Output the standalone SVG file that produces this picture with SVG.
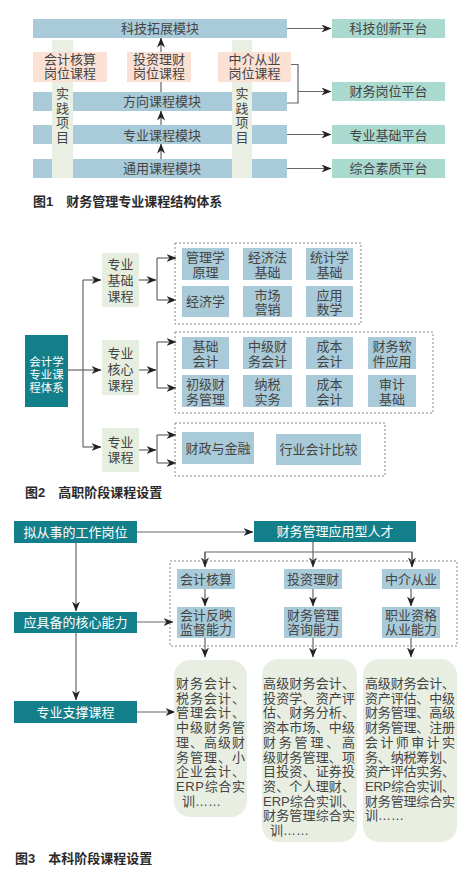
<svg xmlns="http://www.w3.org/2000/svg" width="474" height="873" viewBox="0 0 474 873">
<style>
text{font-family:"Liberation Sans","Noto Sans CJK SC",sans-serif;font-size:13px;fill:#444;}
.c{text-anchor:middle;}
.w{fill:#fff;}
.s11{font-size:11.5px;}
.cap{font-weight:bold;fill:#2a2a2a;}
.bar{fill:#a9cbd9;}
.plat{fill:#aad9d0;}
.pink{fill:#fbe0d4;}
.prac{fill:#e9efe2;}
.teal{fill:#137f8b;}
.grn{fill:#e6eedf;}
.item{fill:#a9cbd9;}
.dash{fill:none;stroke:#8a8a8a;stroke-width:1;stroke-dasharray:2,2;}
.ln{fill:none;stroke:#666;stroke-width:1.2;}
.ar{fill:none;stroke:#666;stroke-width:1.2;marker-end:url(#ah);}
.rb{fill:#e8efe2;}
</style>
<defs>
<marker id="ah" viewBox="0 0 10 8" refX="9.5" refY="4" markerWidth="10" markerHeight="8" markerUnits="userSpaceOnUse" orient="auto">
<path d="M0,0 L10,4 L0,8 L3,4 z" fill="#222"/>
</marker>
</defs>
<rect width="474" height="873" fill="#fff"/>

<!-- ===== Figure 1 ===== -->
<g id="fig1-bars">
<rect class="bar" x="33" y="19" width="254" height="19"/>
<rect class="bar" x="33" y="92" width="254" height="19"/>
<rect class="bar" x="33" y="125" width="254" height="19"/>
<rect class="bar" x="33" y="159" width="254" height="19"/>
</g>
<g id="fig1-connectors">
<line class="ar" x1="161" y1="92" x2="161" y2="38"/>
<line class="ar" x1="161" y1="125" x2="161" y2="111"/>
<line class="ar" x1="161" y1="159" x2="161" y2="144"/>
<line class="ar" x1="287" y1="28.5" x2="331" y2="28.5"/>
<polyline class="ln" points="291,64.5 298,64.5 298,103 287,103"/>
<line class="ar" x1="298" y1="91.5" x2="331" y2="91.5"/>
<line class="ar" x1="287" y1="134.5" x2="331" y2="134.5"/>
<line class="ar" x1="287" y1="168.5" x2="331" y2="168.5"/>
</g>
<g id="prac-left"><rect class="prac" x="52" y="40" width="21" height="138"/>
<text class="c"><tspan x="62.5" y="98">实</tspan><tspan x="62.5" y="112.7">践</tspan><tspan x="62.5" y="127.4">项</tspan><tspan x="62.5" y="142.1">目</tspan></text></g>
<g id="prac-right"><rect class="prac" x="232" y="40" width="20" height="138"/>
<text class="c"><tspan x="242" y="98">实</tspan><tspan x="242" y="112.7">践</tspan><tspan x="242" y="127.4">项</tspan><tspan x="242" y="142.1">目</tspan></text></g>
<g id="m-keji"><text class="c" x="160" y="33">科技拓展模块</text></g>
<g id="m-fangxiang"><text class="c" x="162" y="106">方向课程模块</text></g>
<g id="m-zhuanye"><text class="c" x="162" y="139.5">专业课程模块</text></g>
<g id="m-tongyong"><text class="c" x="162" y="173">通用课程模块</text></g>
<g id="p-kuaiji"><rect class="pink" x="33" y="52" width="74" height="30"/>
<text class="c"><tspan x="70" y="63.5">会计核算</tspan><tspan x="70" y="78.2">岗位课程</tspan></text></g>
<g id="p-touzi"><rect class="pink" x="127" y="52" width="64" height="30"/>
<text class="c"><tspan x="159" y="63.5">投资理财</tspan><tspan x="159" y="78.2">岗位课程</tspan></text></g>
<g id="p-zhongjie"><rect class="pink" x="218" y="52" width="73" height="30"/>
<text class="c"><tspan x="254.5" y="63.5">中介从业</tspan><tspan x="254.5" y="78.2">岗位课程</tspan></text></g>
<g id="pl-keji"><rect class="plat" x="332" y="19" width="113" height="19"/><text class="c" x="388.5" y="33">科技创新平台</text></g>
<g id="pl-caiwu"><rect class="plat" x="332" y="82" width="113" height="19"/><text class="c" x="388.5" y="96">财务岗位平台</text></g>
<g id="pl-jichu"><rect class="plat" x="332" y="125" width="113" height="19"/><text class="c" x="388.5" y="139.5">专业基础平台</text></g>
<g id="pl-zonghe"><rect class="plat" x="332" y="159" width="113" height="19"/><text class="c" x="388.5" y="173">综合素质平台</text></g>
<text class="cap" x="33" y="206">图1　财务管理专业课程结构体系</text>

<!-- ===== Figure 2 ===== -->
<g id="fig2-connectors">
<line class="ln" x1="68" y1="370" x2="83" y2="370"/>
<line class="ln" x1="83" y1="280" x2="83" y2="447"/>
<line class="ar" x1="83" y1="280" x2="101" y2="280"/>
<line class="ar" x1="83" y1="370" x2="101" y2="370"/>
<line class="ar" x1="83" y1="447" x2="101" y2="447"/>
<line class="ar" x1="139" y1="280" x2="156" y2="280"/>
<line class="ar" x1="139" y1="370" x2="156" y2="370"/>
<line class="ar" x1="139" y1="450" x2="156" y2="450"/>
<line class="ln" x1="157" y1="258" x2="157" y2="300"/>
<line class="ar" x1="157" y1="258" x2="176" y2="258"/>
<line class="ar" x1="157" y1="300" x2="176" y2="300"/>
<line class="ln" x1="157" y1="342" x2="157" y2="388"/>
<line class="ar" x1="157" y1="342" x2="176" y2="342"/>
<line class="ar" x1="157" y1="388" x2="176" y2="388"/>
<line class="ln" x1="157" y1="435" x2="157" y2="463"/>
<line class="ar" x1="157" y1="435" x2="176" y2="435"/>
<line class="ar" x1="157" y1="463" x2="176" y2="463"/>
</g>
<g id="kjx"><rect class="teal" x="25" y="335" width="43" height="72"/>
<text class="c w s11"><tspan x="46.5" y="365.5">会计学</tspan><tspan x="46.5" y="378.5">专业课</tspan><tspan x="46.5" y="391.5">程体系</tspan></text></g>
<g id="zyjc"><rect class="grn" x="102" y="253" width="37" height="54"/>
<text class="c"><tspan x="120.5" y="269">专业</tspan><tspan x="120.5" y="285">基础</tspan><tspan x="120.5" y="300.5">课程</tspan></text></g>
<g id="zyhx"><rect class="grn" x="102" y="340" width="37" height="55"/>
<text class="c"><tspan x="120.5" y="358">专业</tspan><tspan x="120.5" y="374">核心</tspan><tspan x="120.5" y="389.5">课程</tspan></text></g>
<g id="zykc"><rect class="grn" x="102" y="428" width="37" height="44"/>
<text class="c"><tspan x="120.5" y="446.5">专业</tspan><tspan x="120.5" y="461.5">课程</tspan></text></g>
<rect class="dash" x="175" y="243" width="186" height="81"/>
<rect class="dash" x="175" y="332" width="258" height="81"/>
<rect class="dash" x="175" y="423" width="210" height="53"/>
<g id="g1a"><rect class="item" x="182" y="248" width="47" height="32"/><text class="c"><tspan x="205.5" y="262">管理学</tspan><tspan x="205.5" y="276.7">原理</tspan></text></g>
<g id="g1b"><rect class="item" x="243" y="248" width="49" height="32"/><text class="c"><tspan x="267.5" y="262">经济法</tspan><tspan x="267.5" y="276.7">基础</tspan></text></g>
<g id="g1c"><rect class="item" x="306" y="248" width="47" height="32"/><text class="c"><tspan x="329.5" y="262">统计学</tspan><tspan x="329.5" y="276.7">基础</tspan></text></g>
<g id="g1d"><rect class="item" x="182" y="286" width="47" height="31"/><text class="c" x="205.5" y="306">经济学</text></g>
<g id="g1e"><rect class="item" x="243" y="286" width="49" height="31"/><text class="c"><tspan x="267.5" y="299.5">市场</tspan><tspan x="267.5" y="314.2">营销</tspan></text></g>
<g id="g1f"><rect class="item" x="306" y="286" width="47" height="31"/><text class="c"><tspan x="329.5" y="299.5">应用</tspan><tspan x="329.5" y="314.2">数学</tspan></text></g>
<g id="g2a"><rect class="item" x="182" y="337" width="47" height="32"/><text class="c"><tspan x="205.5" y="351">基础</tspan><tspan x="205.5" y="365.7">会计</tspan></text></g>
<g id="g2b"><rect class="item" x="243" y="337" width="49" height="32"/><text class="c"><tspan x="267.5" y="351">中级财</tspan><tspan x="267.5" y="365.7">务会计</tspan></text></g>
<g id="g2c"><rect class="item" x="306" y="337" width="47" height="32"/><text class="c"><tspan x="329.5" y="351">成本</tspan><tspan x="329.5" y="365.7">会计</tspan></text></g>
<g id="g2d"><rect class="item" x="368" y="337" width="48" height="32"/><text class="c"><tspan x="392" y="351">财务软</tspan><tspan x="392" y="365.7">件应用</tspan></text></g>
<g id="g2e"><rect class="item" x="182" y="375" width="47" height="32"/><text class="c"><tspan x="205.5" y="389">初级财</tspan><tspan x="205.5" y="403.7">务管理</tspan></text></g>
<g id="g2f"><rect class="item" x="243" y="375" width="49" height="32"/><text class="c"><tspan x="267.5" y="389">纳税</tspan><tspan x="267.5" y="403.7">实务</tspan></text></g>
<g id="g2g"><rect class="item" x="306" y="375" width="47" height="32"/><text class="c"><tspan x="329.5" y="389">成本</tspan><tspan x="329.5" y="403.7">会计</tspan></text></g>
<g id="g2h"><rect class="item" x="368" y="375" width="48" height="32"/><text class="c"><tspan x="392" y="389">审计</tspan><tspan x="392" y="403.7">基础</tspan></text></g>
<g id="g3a"><rect class="item" x="182" y="432" width="72" height="32"/><text class="c" x="218" y="452.5">财政与金融</text></g>
<g id="g3b"><rect class="item" x="276" y="434" width="85" height="31"/><text class="c" x="318.5" y="454">行业会计比较</text></g>
<text class="cap" x="25" y="497">图2　高职阶段课程设置</text>

<!-- ===== Figure 3 ===== -->
<g id="fig3-connectors">
<line class="ar" x1="137" y1="532" x2="253" y2="532"/>
<line class="ar" x1="76" y1="543" x2="76" y2="611"/>
<line class="ar" x1="76" y1="633" x2="76" y2="700"/>
<line class="ar" x1="137" y1="622" x2="173" y2="622"/>
<line class="ar" x1="137" y1="712" x2="175" y2="712"/>
<line class="ar" x1="313" y1="542" x2="313" y2="567"/>
<polyline class="ln" points="205,567 205,552 412,552 412,567"/>
<line class="ar" x1="205" y1="552" x2="205" y2="567"/>
<line class="ar" x1="412" y1="552" x2="412" y2="567"/>
<line class="ar" x1="205" y1="589" x2="205" y2="606"/>
<line class="ar" x1="313" y1="589" x2="313" y2="606"/>
<line class="ar" x1="411" y1="589" x2="411" y2="606"/>
<line class="ar" x1="205" y1="638" x2="205" y2="657"/>
<line class="ar" x1="313" y1="638" x2="313" y2="657"/>
<line class="ar" x1="411" y1="638" x2="411" y2="657"/>
</g>
<g id="nscs"><rect class="teal" x="14" y="521" width="123" height="22"/><text class="c w" x="75.5" y="536.5">拟从事的工作岗位</text></g>
<g id="cwgl"><rect class="teal" x="254" y="521" width="162" height="21"/><text class="c w" x="335" y="536">财务管理应用型人才</text></g>
<g id="yjb"><rect class="teal" x="14" y="612" width="123" height="21"/><text class="c w" x="75.5" y="627">应具备的核心能力</text></g>
<g id="zyzc"><rect class="teal" x="14" y="701" width="123" height="22"/><text class="c w" x="75.5" y="716.5">专业支撑课程</text></g>
<rect class="dash" x="170" y="561" width="287" height="85"/>
<g id="r1a"><rect class="item" x="177" y="569" width="58" height="20"/><text class="c" x="206" y="583.5">会计核算</text></g>
<g id="r1b"><rect class="item" x="284" y="569" width="58" height="20"/><text class="c" x="313" y="583.5">投资理财</text></g>
<g id="r1c"><rect class="item" x="382" y="569" width="58" height="20"/><text class="c" x="411" y="583.5">中介从业</text></g>
<g id="r2a"><rect class="item" x="177" y="607" width="58" height="31"/><text class="c"><tspan x="206" y="619.5">会计反映</tspan><tspan x="206" y="634.2">监督能力</tspan></text></g>
<g id="r2b"><rect class="item" x="284" y="607" width="58" height="31"/><text class="c"><tspan x="313" y="619.5">财务管理</tspan><tspan x="313" y="634.2">咨询能力</tspan></text></g>
<g id="r2c"><rect class="item" x="382" y="607" width="58" height="31"/><text class="c"><tspan x="411" y="619.5">职业资格</tspan><tspan x="411" y="634.2">从业能力</tspan></text></g>
<g id="c-left"><rect class="rb" x="174" y="660" width="73" height="157" rx="16"/>
<text><tspan x="176" y="688" textLength="69" lengthAdjust="spacing">财务会计、</tspan><tspan x="176" y="702.7" textLength="69" lengthAdjust="spacing">税务会计、</tspan><tspan x="176" y="717.4" textLength="69" lengthAdjust="spacing">管理会计、</tspan><tspan x="176" y="732.1" textLength="69" lengthAdjust="spacing">中级财务管</tspan><tspan x="176" y="746.8" textLength="69" lengthAdjust="spacing">理、高级财</tspan><tspan x="176" y="761.5" textLength="69" lengthAdjust="spacing">务管理、小</tspan><tspan x="176" y="776.2" textLength="69" lengthAdjust="spacing">企业会计、</tspan><tspan x="176" y="790.9" textLength="69" lengthAdjust="spacing">ERP综合实</tspan><tspan x="182" y="805.6">训……</tspan></text></g>
<g id="c-mid"><rect class="rb" x="262" y="659" width="95" height="183" rx="16"/>
<text><tspan x="263" y="688" textLength="92" lengthAdjust="spacing">高级财务会计、</tspan><tspan x="263" y="702.7" textLength="92" lengthAdjust="spacing">投资学、资产评</tspan><tspan x="263" y="717.4" textLength="92" lengthAdjust="spacing">估、财务分析、</tspan><tspan x="263" y="732.1" textLength="92" lengthAdjust="spacing">资本市场、中级</tspan><tspan x="263" y="746.8" textLength="92" lengthAdjust="spacing">财务管理、高</tspan><tspan x="263" y="761.5" textLength="92" lengthAdjust="spacing">级财务管理、项</tspan><tspan x="263" y="776.2" textLength="92" lengthAdjust="spacing">目投资、证券投</tspan><tspan x="263" y="790.9" textLength="92" lengthAdjust="spacing">资、个人理财、</tspan><tspan x="263" y="805.6" textLength="92" lengthAdjust="spacing">ERP综合实训、</tspan><tspan x="263" y="820.3" textLength="92" lengthAdjust="spacing">财务管理综合实</tspan><tspan x="270" y="835">训……</tspan></text></g>
<g id="c-right"><rect class="rb" x="363" y="659" width="94" height="183" rx="16"/>
<text><tspan x="365" y="688" textLength="90" lengthAdjust="spacing">高级财务会计、</tspan><tspan x="365" y="702.7" textLength="90" lengthAdjust="spacing">资产评估、中级</tspan><tspan x="365" y="717.4" textLength="90" lengthAdjust="spacing">财务管理、高级</tspan><tspan x="365" y="732.1" textLength="90" lengthAdjust="spacing">财务管理、注册</tspan><tspan x="365" y="746.8" textLength="90" lengthAdjust="spacing">会计师审计实</tspan><tspan x="365" y="761.5" textLength="90" lengthAdjust="spacing">务、纳税筹划、</tspan><tspan x="365" y="776.2" textLength="90" lengthAdjust="spacing">资产评估实务、</tspan><tspan x="365" y="790.9" textLength="90" lengthAdjust="spacing">ERP综合实训、</tspan><tspan x="365" y="805.6" textLength="90" lengthAdjust="spacing">财务管理综合实</tspan><tspan x="365" y="820.3">训……</tspan></text></g>
<text class="cap" x="15" y="863">图3　本科阶段课程设置</text>
</svg>
